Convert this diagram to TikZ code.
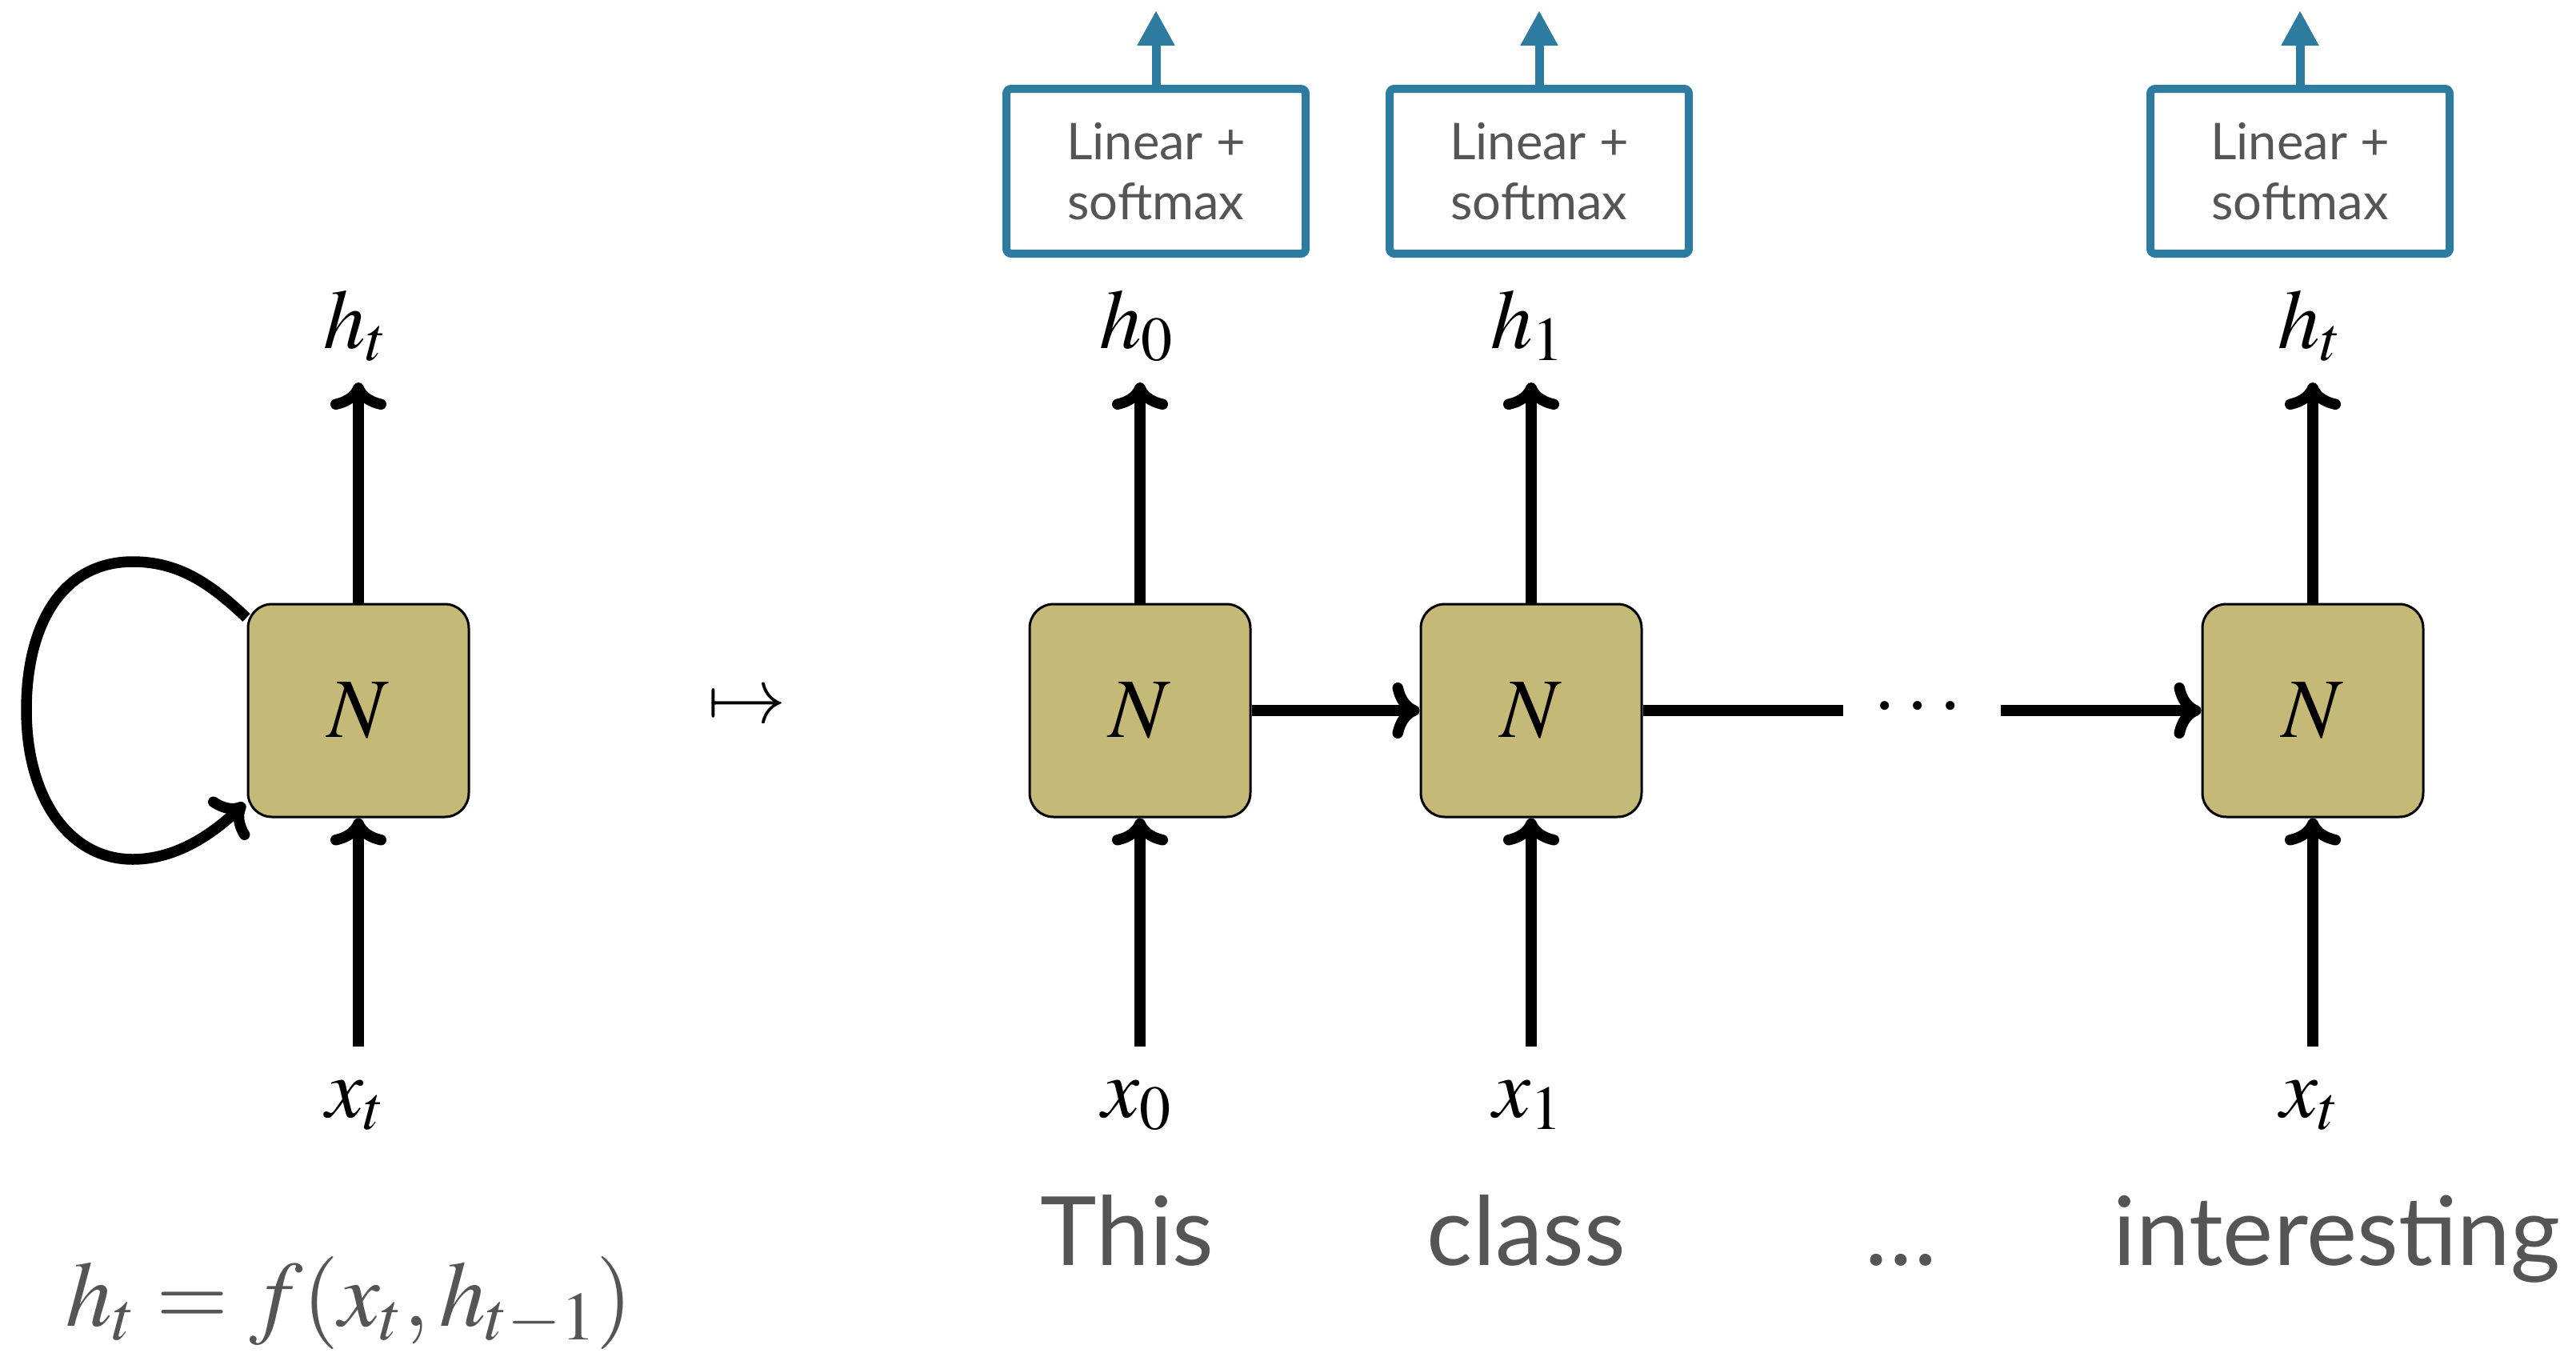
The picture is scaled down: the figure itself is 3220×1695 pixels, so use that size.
\documentclass[tikz,border=0pt]{standalone}
\usepackage{mathptmx}
\usepackage{fontspec}
\setsansfont{Lato}
\usetikzlibrary{arrows.meta}
\definecolor{cellfill}{HTML}{C4B977}
\definecolor{lsblue}{HTML}{2E7BA0}
\definecolor{txtgray}{HTML}{555555}
\begin{document}
\begin{tikzpicture}[x=0.1mm,y=-0.1mm,
  cellbox/.style={draw=black, line width=0.3mm, fill=cellfill, rounded corners=3mm,
    minimum width=27.6mm, minimum height=26.6mm, inner sep=0pt,
    font=\fontsize{30}{36}\selectfont},
  lsbox/.style={draw=lsblue, line width=1mm, fill=white, rounded corners=0.6mm,
    minimum width=37.4mm, minimum height=20.6mm, inner sep=0pt, align=center,
    text=txtgray, font=\sffamily\fontsize{18}{21.5}\selectfont},
  arr/.style={line width=1.35mm, -{Computer Modern Rightarrow[length=3.4mm,width=7mm]}},
  plainline/.style={line width=1.35mm},
  bluearr/.style={draw=lsblue, line width=1.1mm, -{Triangle[length=4.4mm,width=4.4mm]}},
  mlabel/.style={anchor=base, inner sep=0pt, font=\fontsize{30}{36}\selectfont},
  word/.style={anchor=base, inner sep=0pt, text=txtgray, font=\sffamily\fontsize{34}{40}\selectfont}
]
\useasboundingbox (0,0) rectangle (3220,1695);

% ---------- left folded cell ----------
\node[cellbox] (n0) at (448,888) {$N$};
\coordinate (o0) at (448,478);
\coordinate (i0) at (448,1308);
\draw[arr] (n0.north) -- (o0);
\draw[arr] (i0) -- (n0.south);
\node[mlabel] (h0l) at (444,435) {$h_t$};
\node[mlabel] (x0l) at (444,1396) {$x_t$};
\coordinate (ls) at (308,772);
\coordinate (le) at (306,1004);
\draw[arr] (ls) .. controls (262,728) and (222,702) .. (166,702)
  .. controls (78,702) and (33,780) .. (33,887)
  .. controls (33,1000) and (88,1074) .. (166,1074)
  .. controls (222,1074) and (268,1040) .. (le);

% maps-to
\node[inner sep=0pt, font=\fontsize{28}{34}\selectfont] (mt) at (934,885) {$\mapsto$};

% ---------- unrolled chain ----------
\node[cellbox] (n1) at (1425,888) {$N$};
\node[cellbox] (n2) at (1914,888) {$N$};
\node[cellbox] (n3) at (2891,888) {$N$};

\draw[arr] (n1.east) -- (n2.west);
\coordinate (g1) at (2304,888);
\coordinate (g2) at (2501,888);
\draw[plainline] (n2.east) -- (g1);
\node[inner sep=0pt, font=\fontsize{30}{36}\selectfont] (dots) at (2397,885) {$\cdots$};
\draw[arr] (g2) -- (n3.west);

% outputs
\coordinate (o1) at (1425,478);
\coordinate (o2) at (1914,478);
\coordinate (o3) at (2891,478);
\draw[arr] (n1.north) -- (o1);
\draw[arr] (n2.north) -- (o2);
\draw[arr] (n3.north) -- (o3);
\node[mlabel] (h1l) at (1421,435) {$h_0$};
\node[mlabel] (h2l) at (1910,435) {$h_1$};
\node[mlabel] (h3l) at (2887,435) {$h_t$};

% inputs
\coordinate (i1) at (1425,1308);
\coordinate (i2) at (1914,1308);
\coordinate (i3) at (2891,1308);
\draw[arr] (i1) -- (n1.south);
\draw[arr] (i2) -- (n2.south);
\draw[arr] (i3) -- (n3.south);
\node[mlabel] (x1l) at (1421,1396) {$x_0$};
\node[mlabel] (x2l) at (1910,1396) {$x_1$};
\node[mlabel] (x3l) at (2887,1396) {$x_t$};

% linear + softmax boxes
\node[lsbox] (s1) at (1445,214) {Linear +\\softmax};
\node[lsbox] (s2) at (1924,214) {Linear +\\softmax};
\node[lsbox] (s3) at (2875,214) {Linear +\\softmax};
\coordinate (t1) at (1445,13);
\coordinate (t2) at (1924,13);
\coordinate (t3) at (2875,13);
\draw[bluearr] (s1.north) -- (t1);
\draw[bluearr] (s2.north) -- (t2);
\draw[bluearr] (s3.north) -- (t3);

% words
\node[word] (w1) at (1409,1581) {This};
\node[word] (w2) at (1908,1581) {class};
\node[word] (w3) at (2376,1581) {…};
\node[word] (w4) at (2921,1581) {interesting};

% formula
\node[anchor=base west, inner sep=0pt, text=txtgray, font=\fontsize{33}{40}\selectfont] (fx) at (82,1657) {$h_t = f(x_t, h_{t-1})$};
\end{tikzpicture}
\end{document}
